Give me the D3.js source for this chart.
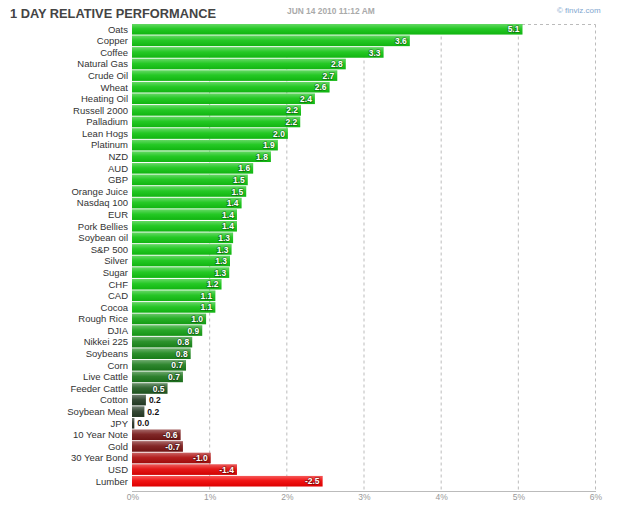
<!DOCTYPE html>
<html><head><meta charset="utf-8">
<script src="https://cdn.jsdelivr.net/npm/d3@7"></script>
<style>
html,body{margin:0;padding:0;background:#fff;}
svg{display:block;font-family:Arial,"Liberation Sans",sans-serif;}
</style></head><body>
<svg id="c" width="625" height="511"></svg>
<script>
const categories = ["Oats","Copper","Coffee","Natural Gas","Crude Oil","Wheat","Heating Oil","Russell 2000","Palladium","Lean Hogs","Platinum","NZD","AUD","GBP","Orange Juice","Nasdaq 100","EUR","Pork Bellies","Soybean oil","S&P 500","Silver","Sugar","CHF","CAD","Cocoa","Rough Rice","DJIA","Nikkei 225","Soybeans","Corn","Live Cattle","Feeder Cattle","Cotton","Soybean Meal","JPY","10 Year Note","Gold","30 Year Bond","USD","Lumber"];
const values = [5.06,3.60,3.26,2.77,2.66,2.56,2.37,2.19,2.18,2.02,1.89,1.80,1.57,1.50,1.48,1.42,1.36,1.36,1.31,1.29,1.27,1.26,1.16,1.08,1.08,0.96,0.91,0.78,0.76,0.70,0.66,0.46,0.18,0.16,0.03,-0.63,-0.66,-1.02,-1.36,-2.47];
const xTicks = [0,1,2,3,4,5,6];
const title = "1 DAY RELATIVE PERFORMANCE";
const dateText = "JUN 14 2010 11:12 AM";
const credit = "\u00A9 finviz.com";

(function(){
const svg = d3.select("#c");
const L = 132, R = 595, T = 24, axisY = 491;
const x = d3.scaleLinear().domain([0,6]).range([L,R]);
const y = d3.scaleBand().domain(categories).range([T, 486.5]).paddingInner(0.09);

const posT = d3.scalePow().exponent(1.5).domain([0,1.1]).range([0,1]).clamp(true);
const negT = d3.scalePow().exponent(1.2).domain([0,1.45]).range([0,1]).clamp(true);
const greenI = d3.interpolateRgb("#263226","#12c412");
const redI = d3.interpolateRgb("#2e2222","#f00000");
const color = v => v >= 0 ? greenI(posT(v)) : redI(negT(-v));

const defs = svg.append("defs");
const g = defs.append("linearGradient").attr("id","shine").attr("x1",0).attr("y1",0).attr("x2",0).attr("y2",1);
g.append("stop").attr("offset","0%").attr("stop-color","#fff").attr("stop-opacity",0.35);
g.append("stop").attr("offset","45%").attr("stop-color","#fff").attr("stop-opacity",0.08);
g.append("stop").attr("offset","100%").attr("stop-color","#000").attr("stop-opacity",0.08);

svg.append("text").attr("x",10).attr("y",17.5).attr("font-size",12.8).attr("font-weight","bold").attr("fill","#444").text(title);
svg.append("text").attr("x",287).attr("y",13.5).attr("font-size",8.4).attr("font-weight","bold").attr("fill","#aaa").text(dateText);
svg.append("text").attr("x",557).attr("y",12.5).attr("font-size",8).attr("fill","#7fa7cf").text(credit);

const grid = svg.append("g");
grid.selectAll("line.v").data(xTicks.filter(d=>d>0)).join("line")
  .attr("x1",d=>x(d)+0.5).attr("x2",d=>x(d)+0.5).attr("y1",T+0.5).attr("y2",axisY)
  .attr("stroke","#bbb").attr("stroke-dasharray","3,3");
grid.append("line").attr("x1",L).attr("x2",R+0.5).attr("y1",T+0.5).attr("y2",T+0.5)
  .attr("stroke","#bbb").attr("stroke-dasharray","3,3");

const rows = svg.append("g").selectAll("g").data(categories.map((c,i)=>({c, v: values[i]}))).join("g");
rows.append("rect").attr("x",L).attr("y",d=>y(d.c)).attr("width",d=>x(Math.abs(d.v))-L).attr("height",y.bandwidth())
  .attr("fill",d=>color(d.v));
rows.append("rect").attr("x",L).attr("y",d=>y(d.c)).attr("width",d=>x(Math.abs(d.v))-L).attr("height",y.bandwidth())
  .attr("fill","url(#shine)");

rows.append("text").attr("x",128).attr("y",d=>y(d.c)+y.bandwidth()/2).attr("dy","0.35em")
  .attr("text-anchor","end").attr("font-size",9.5).attr("fill","#333").text(d=>d.c);

rows.each(function(d){
  const gr = d3.select(this);
  const w = x(Math.abs(d.v)) - L;
  const label = d.v.toFixed(1);
  const inside = w > 22;
  const t = gr.append("text").attr("y", y(d.c)+y.bandwidth()/2).attr("dy","0.36em")
    .attr("font-size",8.5).attr("font-weight","bold").text(label);
  if (inside) {
    t.attr("x", x(Math.abs(d.v)) - 3).attr("text-anchor","end").attr("fill","#fff")
     .attr("stroke","rgba(0,0,0,0.35)").attr("stroke-width",1.6).attr("paint-order","stroke");
  } else {
    t.attr("x", x(Math.abs(d.v)) + 3).attr("text-anchor","start").attr("fill","#111");
  }
});

svg.append("line").attr("x1",L).attr("x2",R+1).attr("y1",axisY+0.5).attr("y2",axisY+0.5).attr("stroke","#bbb");
svg.append("g").selectAll("text").data(xTicks).join("text")
  .attr("x",d=>x(d)+1).attr("y",500).attr("text-anchor","middle").attr("font-size",8.5).attr("fill","#999")
  .text(d=>d+"%");
})();
</script>
</body></html>
